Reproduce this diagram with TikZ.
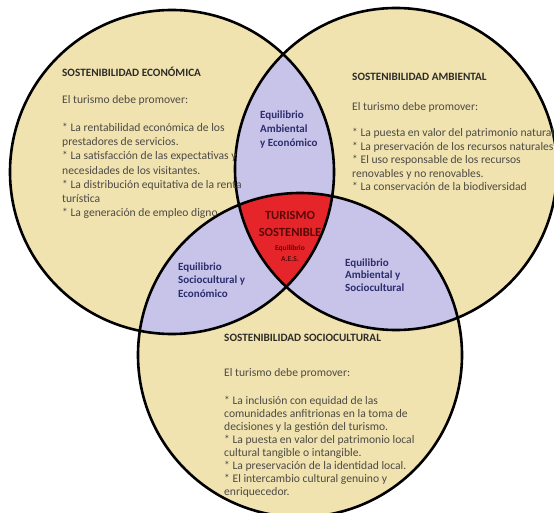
\documentclass[tikz,border=0pt]{standalone}
\usepackage{fontspec}
\setmainfont{Carlito}
\definecolor{beige}{HTML}{F0E3B0}
\definecolor{lav}{HTML}{C8C3E8}
\definecolor{tred}{HTML}{E6252A}
\definecolor{navy}{HTML}{2B2D6E}
\definecolor{bodygray}{HTML}{4D4A45}
\definecolor{titlegray}{HTML}{2E2C28}
\definecolor{darkred}{HTML}{5A0808}
\newcommand{\txtblock}[6]{%
  \foreach \t [count=\i] in {#6}
    \node[#1, anchor=base west] (#2-\i) at ({#3},{#4+#5*(\i-1)}) {\t};}
\begin{document}
\begin{tikzpicture}[x=1pt,y=-1pt,
  ring/.style={draw=black, line width=2.6pt},
  bodytxt/.style={inner sep=0pt, text=bodygray, font=\fontsize{11.6}{13}\selectfont},
  titletxt/.style={inner sep=0pt, text=titlegray, font=\fontsize{11.2}{13}\selectfont\bfseries},
  lenstxt/.style={inner sep=0pt, text=navy, font=\fontsize{11}{13}\selectfont\bfseries},
  coretxt/.style={inner sep=0pt, text=darkred, font=\fontsize{12.5}{14}\selectfont\bfseries, anchor=base},
  coresmall/.style={inner sep=0pt, text=darkred, font=\fontsize{7.5}{9}\selectfont\bfseries, anchor=base}]
\useasboundingbox (0,0) rectangle (554,513);
\fill[white] (0,0) rectangle (554,513);
\coordinate (CL) at (172,172);
\coordinate (CR) at (396,169);
\coordinate (CB) at (300,355);
% base fills
\fill[beige] (CL) circle[radius=162];
\fill[beige] (CR) circle[radius=161];
\fill[beige] (CB) circle[radius=162];
% pairwise overlaps
\begin{scope}
  \clip (CL) circle[radius=162];
  \fill[lav] (CR) circle[radius=161];
  \fill[lav] (CB) circle[radius=162];
\end{scope}
\begin{scope}
  \clip (CR) circle[radius=161];
  \fill[lav] (CB) circle[radius=162];
\end{scope}
% triple overlap
\begin{scope}
  \clip (CL) circle[radius=162];
  \clip (CR) circle[radius=161];
  \fill[tred] (CB) circle[radius=162];
\end{scope}
% outlines
\draw[ring] (CL) circle[radius=162];
\draw[ring] (CR) circle[radius=161];
\draw[ring] (CB) circle[radius=162];
% economic
\node[titletxt, anchor=base west] (econT) at (62,77) {SOSTENIBILIDAD ECONÓMICA};
\node[bodytxt, anchor=base west] (econI) at (62,104) {El turismo debe promover:};
\txtblock{bodytxt}{econ}{62}{131.5}{14.2}{{* La rentabilidad económica de los},{prestadores de servicios.},{* La satisfacción de las expectativas y},{necesidades de los visitantes.},{* La distribución equitativa de la renta},{turística},{* La generación de empleo digno}}
% environmental
\node[titletxt, anchor=base west] (ambT) at (352,81) {SOSTENIBILIDAD AMBIENTAL};
\node[bodytxt, anchor=base west] (ambI) at (352,111) {El turismo debe promover:};
\txtblock{bodytxt}{amb}{352}{137}{13.5}{{* La puesta en valor del patrimonio natural},{* La preservación de los recursos naturales},{* El uso responsable de los recursos},{renovables y no renovables.},{* La conservación de la biodiversidad}}
% sociocultural
\node[titletxt, anchor=base west] (socT) at (224,341) {SOSTENIBILIDAD SOCIOCULTURAL};
\node[bodytxt, anchor=base west] (socI) at (224,376) {El turismo debe promover:};
\txtblock{bodytxt}{soc}{224}{404}{13.1}{{* La inclusión con equidad de las},{comunidades anfitrionas en la toma de},{decisiones y la gestión del turismo.},{* La puesta en valor del patrimonio local},{cultural tangible o intangible.},{* La preservación de la identidad local.},{* El intercambio cultural genuino y},{enriquecedor.}}
% lenses
\txtblock{lenstxt}{lensAE}{260}{119}{14}{{Equilibrio},{Ambiental},{y Económico}}
\txtblock{lenstxt}{lensSE}{178}{270}{13.5}{{Equilibrio},{Sociocultural y},{Económico}}
\txtblock{lenstxt}{lensAS}{345}{266}{12.7}{{Equilibrio},{Ambiental y},{Sociocultural}}
% core
\node[coretxt] (core1) at (290,219.5) {TURISMO};
\node[coretxt] (core2) at (290,236.5) {SOSTENIBLE};
\node[coresmall] (core3) at (290,250) {Equilibrio};
\node[coresmall] (core4) at (290,261) {A.E.S.};
\end{tikzpicture}
\end{document}
